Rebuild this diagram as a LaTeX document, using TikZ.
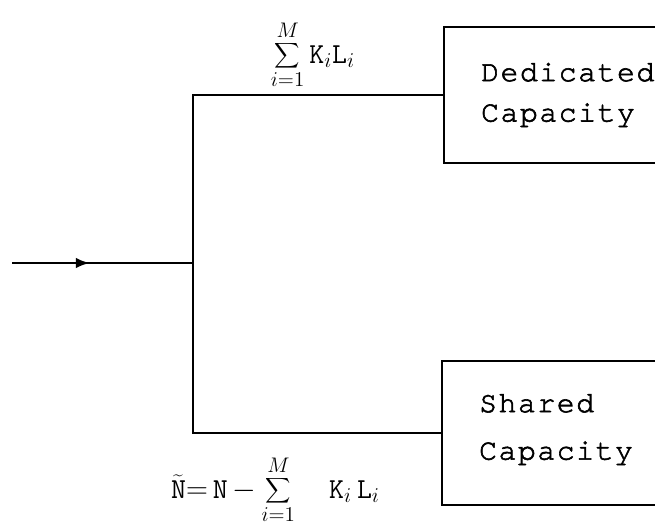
\documentclass[tikz,border=0pt]{standalone}
\usepackage{fontspec}
\newfontfamily\tw{texgyrecursor-regular}[Extension=.otf,LetterSpace=5,FakeBold=2]
\usetikzlibrary{decorations.markings,arrows.meta}
\begin{document}
\begin{tikzpicture}[x=0.02cm,y=-0.02cm, line width=1.3pt,
  box/.style={draw, rectangle, anchor=west, minimum width=6cm, inner xsep=0.74cm,
    text width=4.52cm, align=left, font=\tw\fontsize{17}{23}\selectfont},
  lbl/.style={font=\fontsize{16.5}{19}\selectfont, inner sep=0pt}]
\useasboundingbox (0,0) rectangle (655,521);
\clip (0,0) rectangle (655,521);
\node[box, minimum height=2.72cm] (ded) at (443,95) {Dedicated\\Capacity};
\node[box, minimum height=2.88cm, font=\tw\fontsize{17}{27}\selectfont] (sha) at (441,433) {Shared\\Capacity\vphantom{g}\\[-20pt]\mbox{}};
\coordinate (in) at (12,263);
\coordinate (J) at (193,263);
\draw[postaction={decorate}, decoration={markings, mark=at position 0.43 with {\arrow{Latex[length=8pt,width=6pt]}}}] (in) -- (J);
\draw (J) |- (ded.west);
\draw (J) |- (sha.west);
\node[lbl, anchor=base] (s1) at (313,63) {$\displaystyle\sum_{i=1}^{M}\mathtt{K}_i\mathtt{L}_i$};
\node[lbl, anchor=base west] (s2) at (170,498) {$\displaystyle\widetilde{\mathtt{N}}{=}\,\mathtt{N}\,{-}\sum_{i=1}^{M}\quad \mathtt{K}_i\,\mathtt{L}_i$};
\end{tikzpicture}
\end{document}
